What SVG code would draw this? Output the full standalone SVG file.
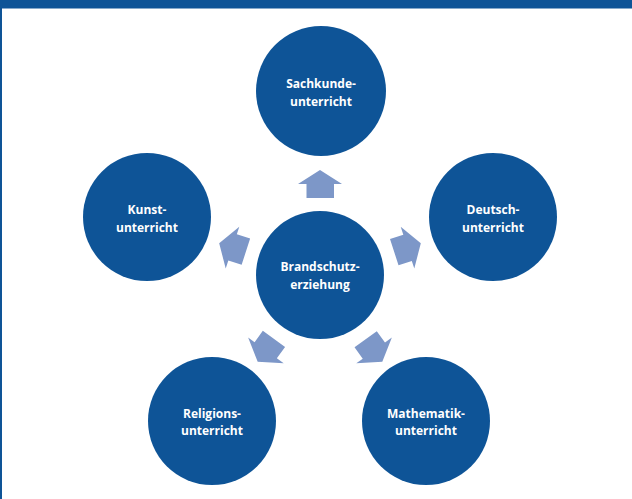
<svg xmlns="http://www.w3.org/2000/svg" width="632" height="499" viewBox="0 0 632 499">
<style>
.n{fill:#0e5497}
.t{fill:#ffffff;font-family:"Open Sans","Liberation Sans",sans-serif;font-weight:bold;font-size:12px;text-anchor:middle}
.a{fill:#7d97c8}
</style>
<defs>
<polygon id="arr" points="320,170 342,184 334,184 334,198 306.5,198 306.5,184 298,184"/>
</defs>
<rect x="0" y="0" width="632" height="499" fill="#ffffff"/>
<rect x="0" y="0" width="632" height="8.5" fill="#0e5497"/>
<rect x="0" y="0" width="2" height="499" fill="#0e5497"/>
<g id="connectors">
<use href="#arr" class="a"/>
<use href="#arr" class="a" transform="rotate(-72 320 276)"/>
<use href="#arr" class="a" transform="rotate(72 320 276)"/>
<use href="#arr" class="a" transform="rotate(-144 320 276)"/>
<use href="#arr" class="a" transform="rotate(144 320 276)"/>
</g>
<g id="center">
<circle class="n" cx="320" cy="275" r="64"/>
<text class="t" x="320" y="271">Brandschutz-</text>
<text class="t" x="320" y="288.5">erziehung</text>
</g>
<g id="sachkunde">
<circle class="n" cx="321" cy="91" r="65"/>
<text class="t" x="321" y="88">Sachkunde-</text>
<text class="t" x="321" y="105.5">unterricht</text>
</g>
<g id="kunst">
<circle class="n" cx="147" cy="217" r="64"/>
<text class="t" x="147" y="214">Kunst-</text>
<text class="t" x="147" y="231.5">unterricht</text>
</g>
<g id="deutsch">
<circle class="n" cx="493" cy="217" r="64"/>
<text class="t" x="493" y="214">Deutsch-</text>
<text class="t" x="493" y="231.5">unterricht</text>
</g>
<g id="religion">
<circle class="n" cx="212" cy="421" r="64"/>
<text class="t" x="212" y="417.5">Religions-</text>
<text class="t" x="212" y="435">unterricht</text>
</g>
<g id="mathematik">
<circle class="n" cx="426" cy="421" r="64"/>
<text class="t" x="426" y="417.5">Mathematik-</text>
<text class="t" x="426" y="435">unterricht</text>
</g>
</svg>
